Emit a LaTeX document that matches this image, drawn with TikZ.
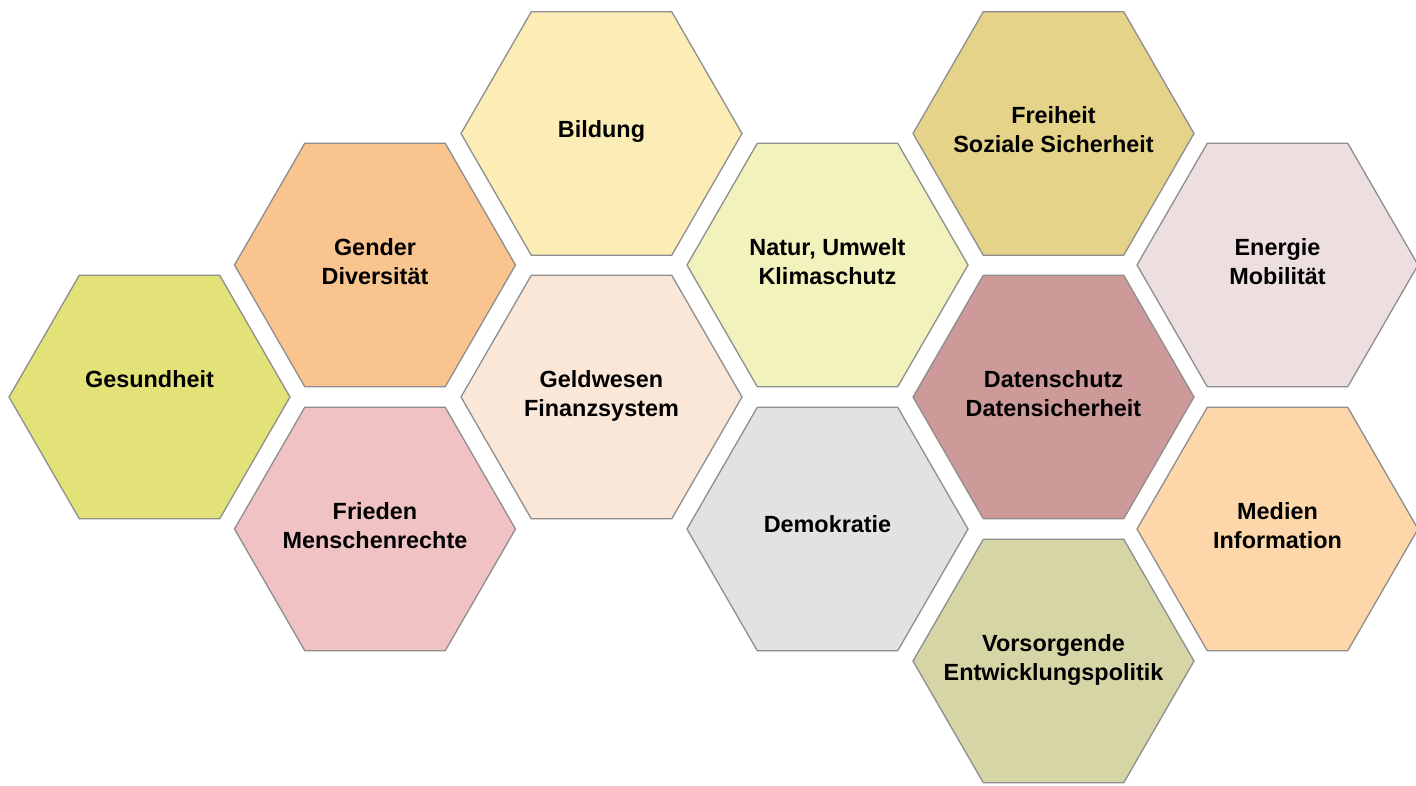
\documentclass[tikz,border=0pt]{standalone}
\usepackage{fontspec}
\setmainfont{Liberation Sans}
\usetikzlibrary{shapes.geometric}
\definecolor{cGes}{HTML}{E2E278}
\definecolor{cGen}{HTML}{F9C48E}
\definecolor{cFri}{HTML}{F0C2C3}
\definecolor{cBil}{HTML}{FCECB5}
\definecolor{cGel}{HTML}{FBE7D7}
\definecolor{cNat}{HTML}{F1F2BC}
\definecolor{cDem}{HTML}{E2E2E2}
\definecolor{cFre}{HTML}{E6D38A}
\definecolor{cDat}{HTML}{CD9999}
\definecolor{cVor}{HTML}{D6D5A6}
\definecolor{cEne}{HTML}{EDDEDF}
\definecolor{cMed}{HTML}{FDD6AA}
\definecolor{cLine}{HTML}{8E8E8E}
\newcommand\hs{\rule[-5pt]{0pt}{17pt}}
\tikzset{
  hexa/.style={regular polygon, regular polygon sides=6, minimum size=281pt,
    inner sep=0pt, outer sep=0pt, draw=cLine, line width=1.3pt},
  hextext/.style={inner sep=0pt, align=center,
    font=\fontsize{23.4}{29}\selectfont\bfseries, text=black}
}
\begin{document}
\begin{tikzpicture}[x=1pt,y=-1pt]
\useasboundingbox (0,0) rectangle (1416,785);
\node[hexa, fill=cGes] (ges) at (149.5,397) {};
\node[hexa, fill=cGen] (gen) at (375,265) {};
\node[hexa, fill=cFri] (fri) at (375,529) {};
\node[hexa, fill=cBil] (bil) at (601.5,133.5) {};
\node[hexa, fill=cGel] (gel) at (601.5,397) {};
\node[hexa, fill=cNat] (nat) at (827.5,265) {};
\node[hexa, fill=cDem] (dem) at (827.5,529) {};
\node[hexa, fill=cFre] (fre) at (1053.5,133.5) {};
\node[hexa, fill=cDat] (dat) at (1053.5,397) {};
\node[hexa, fill=cVor] (vor) at (1053.5,661) {};
\node[hexa, fill=cEne] (ene) at (1277.5,265) {};
\node[hexa, fill=cMed] (med) at (1277.5,529) {};
\node[hextext] (tges) at ([yshift=1pt]ges.center) {Gesundheit\hs\\\hs};
\node[hextext] (tgen) at ([yshift=1pt]gen.center) {Gender\hs\\Diversität\hs};
\node[hextext] (tfri) at ([yshift=1pt]fri.center) {Frieden\hs\\Menschenrechte\hs};
\node[hextext] (tbil) at ([yshift=2pt]bil.center) {Bildung\hs};
\node[hextext] (tgel) at ([yshift=1pt]gel.center) {Geldwesen\hs\\Finanzsystem\hs};
\node[hextext] (tnat) at ([yshift=1pt]nat.center) {Natur, Umwelt\hs\\Klimaschutz\hs};
\node[hextext] (tdem) at ([yshift=2pt]dem.center) {Demokratie\hs};
\node[hextext] (tfre) at ([yshift=1pt]fre.center) {Freiheit\hs\\Soziale Sicherheit\hs};
\node[hextext] (tdat) at ([yshift=1pt]dat.center) {Datenschutz\hs\\Datensicherheit\hs};
\node[hextext] (tvor) at ([yshift=1pt]vor.center) {Vorsorgende\hs\\Entwicklungspolitik\hs};
\node[hextext] (tene) at ([yshift=1pt]ene.center) {Energie\hs\\Mobilität\hs};
\node[hextext] (tmed) at ([yshift=1pt]med.center) {Medien\hs\\Information\hs};
\end{tikzpicture}
\end{document}
